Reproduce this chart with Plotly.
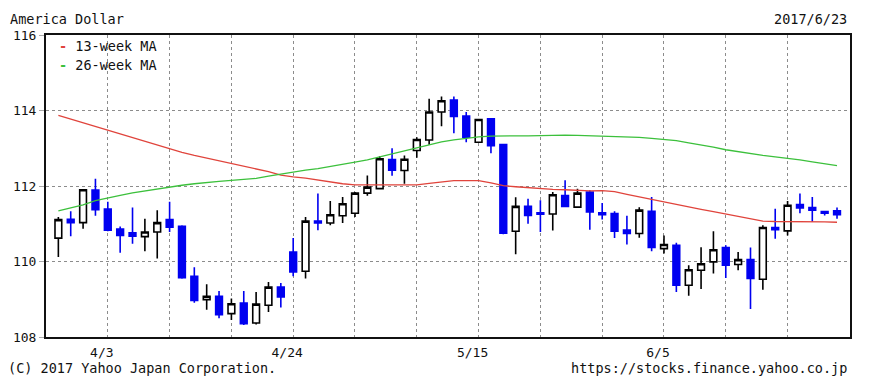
import plotly.graph_objects as go

# ---- data (USD/JPY daily, 2017/3/28 - 2017/6/23) ----
day_index = list(range(64))
opens = [110.62, 111.12, 111.03, 111.89, 111.39, 110.86, 110.76, 110.66, 110.78, 111.11,
         110.93, 109.61, 108.99, 109.08, 108.62, 108.90, 108.37, 108.84, 109.32, 110.25,
         109.74, 111.07, 111.02, 111.21, 111.28, 111.81, 111.93, 112.70, 112.41, 112.94,
         113.22, 113.96, 114.28, 113.85, 113.16, 113.78, 113.10, 110.80, 111.46, 111.29,
         111.26, 111.75, 111.44, 111.84, 111.29, 111.27, 110.83, 110.74, 111.33, 110.34,
         110.43, 109.37, 109.77, 109.99, 110.37, 109.92, 110.05, 109.53, 110.90, 110.81,
         111.51, 111.43, 111.32, 111.34]
highs = [111.18, 111.33, 111.91, 112.19, 111.58, 110.93, 111.43, 111.13, 111.36, 111.58,
         110.96, 109.85, 109.40, 109.22, 109.02, 109.22, 109.19, 109.46, 109.43, 110.62,
         111.18, 111.80, 111.60, 111.71, 111.84, 112.28, 112.79, 113.00, 112.81, 113.29,
         114.31, 114.37, 114.37, 113.96, 113.78, 113.80, 113.10, 111.70, 111.66, 111.62,
         111.84, 112.15, 111.93, 111.89, 111.55, 111.33, 111.21, 111.44, 111.71, 110.69,
         110.50, 109.90, 110.38, 110.80, 110.43, 110.25, 110.37, 110.96, 111.40, 111.60,
         111.80, 111.71, 111.32, 111.43]
lows = [110.12, 110.67, 110.87, 111.21, 110.80, 110.23, 110.47, 110.27, 110.08, 110.78,
        109.54, 108.91, 108.72, 108.50, 108.45, 108.32, 108.33, 108.66, 108.78, 109.61,
        109.55, 110.83, 110.96, 111.02, 111.18, 111.74, 111.91, 112.27, 112.06, 112.75,
        113.09, 113.58, 113.40, 113.16, 113.16, 112.87, 110.72, 110.19, 111.00, 110.78,
        110.82, 111.44, 111.44, 110.84, 111.11, 110.62, 110.45, 110.63, 110.27, 110.21,
        109.19, 109.09, 109.27, 109.68, 109.56, 109.77, 108.74, 109.25, 110.60, 110.69,
        111.28, 111.05, 111.22, 111.13]
closes = [111.11, 111.03, 111.90, 111.37, 110.83, 110.69, 110.67, 110.78, 111.03, 110.91,
          109.57, 108.97, 109.08, 108.59, 108.88, 108.35, 108.87, 109.32, 109.06, 109.72,
          111.07, 111.02, 111.24, 111.53, 111.81, 111.97, 112.72, 112.42, 112.71, 113.23,
          113.96, 114.26, 113.84, 113.29, 113.76, 113.07, 110.75, 111.46, 111.22, 111.25,
          111.77, 111.46, 111.81, 111.31, 111.24, 110.80, 110.74, 111.36, 110.37, 110.45,
          109.37, 109.78, 109.94, 110.31, 109.90, 110.05, 109.55, 110.90, 110.84, 111.49,
          111.42, 111.36, 111.28, 111.24]
ma13 = [113.87, 113.77, 113.67, 113.57, 113.48, 113.37, 113.28, 113.18, 113.08, 112.98,
        112.89, 112.81, 112.74, 112.67, 112.60, 112.52, 112.45, 112.38, 112.29, 112.24,
        112.21, 112.16, 112.12, 112.06, 112.03, 112.03, 112.03, 112.03, 112.03, 112.03,
        112.07, 112.11, 112.14, 112.14, 112.14, 112.08, 112.01, 111.98, 111.95, 111.93,
        111.91, 111.90, 111.89, 111.87, 111.88, 111.85, 111.78, 111.71, 111.65, 111.58,
        111.52, 111.45, 111.38, 111.32, 111.26, 111.19, 111.13, 111.07, 111.06, 111.06,
        111.05, 111.05, 111.05, 111.04]
ma26 = [111.34, 111.42, 111.50, 111.61, 111.69, 111.75, 111.82, 111.87, 111.93, 111.98,
        112.02, 112.06, 112.10, 112.12, 112.15, 112.18, 112.20, 112.26, 112.32, 112.38,
        112.42, 112.46, 112.51, 112.56, 112.63, 112.69, 112.77, 112.85, 112.93, 113.00,
        113.09, 113.17, 113.22, 113.26, 113.30, 113.32, 113.33, 113.33, 113.33, 113.34,
        113.35, 113.35, 113.34, 113.33, 113.33, 113.32, 113.30, 113.29, 113.26, 113.24,
        113.20, 113.14, 113.09, 113.03, 112.96, 112.91, 112.85, 112.81, 112.77, 112.74,
        112.69, 112.64, 112.59, 112.54]
grid_idx = [4, 9, 14, 19, 24, 29, 34, 39, 44, 49, 54, 59]
grid_text = ["4/3", "", "", "4/24", "", "", "5/15", "", "", "6/5", "", ""]
y_ticks = [108, 110, 112, 114, 116]

FONT = "DejaVu Sans Mono"
RED = "#e0443c"
GREEN = "#3cc03c"
BLUE = "#0000f0"

W, H = 870, 385
ML, MR, MT, MB = 46, 20, 35, 48

fig = go.Figure()
fig.add_trace(go.Scatter(x=day_index, y=ma13, mode="lines",
                         line=dict(color=RED, width=1.3), hoverinfo="skip"))
fig.add_trace(go.Scatter(x=day_index, y=ma26, mode="lines",
                         line=dict(color=GREEN, width=1.3), hoverinfo="skip"))
fig.add_trace(go.Candlestick(
    x=day_index, open=opens, high=highs, low=lows, close=closes,
    increasing=dict(line=dict(color="#000000", width=1.6), fillcolor="#ffffff"),
    decreasing=dict(line=dict(color=BLUE, width=1.6), fillcolor=BLUE),
    whiskerwidth=0, hoverinfo="skip"))

fig.update_layout(
    width=W, height=H,
    margin=dict(l=ML, r=MR, t=MT, b=MB),
    paper_bgcolor="white", plot_bgcolor="white",
    showlegend=False,
    boxgap=0.22,
    hovermode=False,
    font=dict(family=FONT, size=13, color="#111"),
    xaxis=dict(range=[-1.0, 64.05], rangeslider=dict(visible=False),
               tickmode="array", tickvals=grid_idx, ticktext=grid_text,
               showgrid=True, gridcolor="#8c8c8c", griddash="dot", gridwidth=1,
               ticks="", ticklabelshift=-6, ticklabelstandoff=2,
               showline=True, linecolor="#111", linewidth=2, mirror=True,
               zeroline=False, fixedrange=True),
    yaxis=dict(range=[108, 116], tickmode="array", tickvals=y_ticks,
               ticktext=[str(v) for v in y_ticks],
               showgrid=True, gridcolor="#8c8c8c", griddash="dot", gridwidth=1,
               ticks="outside", ticklen=5, tickcolor="#aaaaaa",
               showline=True, linecolor="#111", linewidth=2, mirror=True,
               zeroline=False, fixedrange=True),
)

annots = [
    ("America Dollar", 8, 19, "left"),
    ("2017/6/23", 849, 19, "right"),
    ("(C) 2017 Yahoo Japan Corporation.", 6, 368, "left"),
    ("https://stocks.finance.yahoo.co.jp", 849, 368, "right"),
    ("<span style='color:%s'><b>-</b></span> 13-week MA" % RED, 57, 46, "left"),
    ("<span style='color:%s'><b>-</b></span> 26-week MA" % GREEN, 57, 65, "left"),
]
for text, xp, yp, anchor in annots:
    px = (xp - ML) / (W - ML - MR)
    py = 1 - (yp - MT) / (H - MT - MB)
    fig.add_annotation(text=text, xref="paper", yref="paper",
                       x=px, y=py, xanchor=anchor, yanchor="middle",
                       showarrow=False, font=dict(family=FONT, size=13.5, color="#111"))

fig.write_html("out.html", config={"displayModeBar": False, "staticPlot": True},
               post_script="document.body.style.margin='0px';document.body.style.overflow='hidden';")
